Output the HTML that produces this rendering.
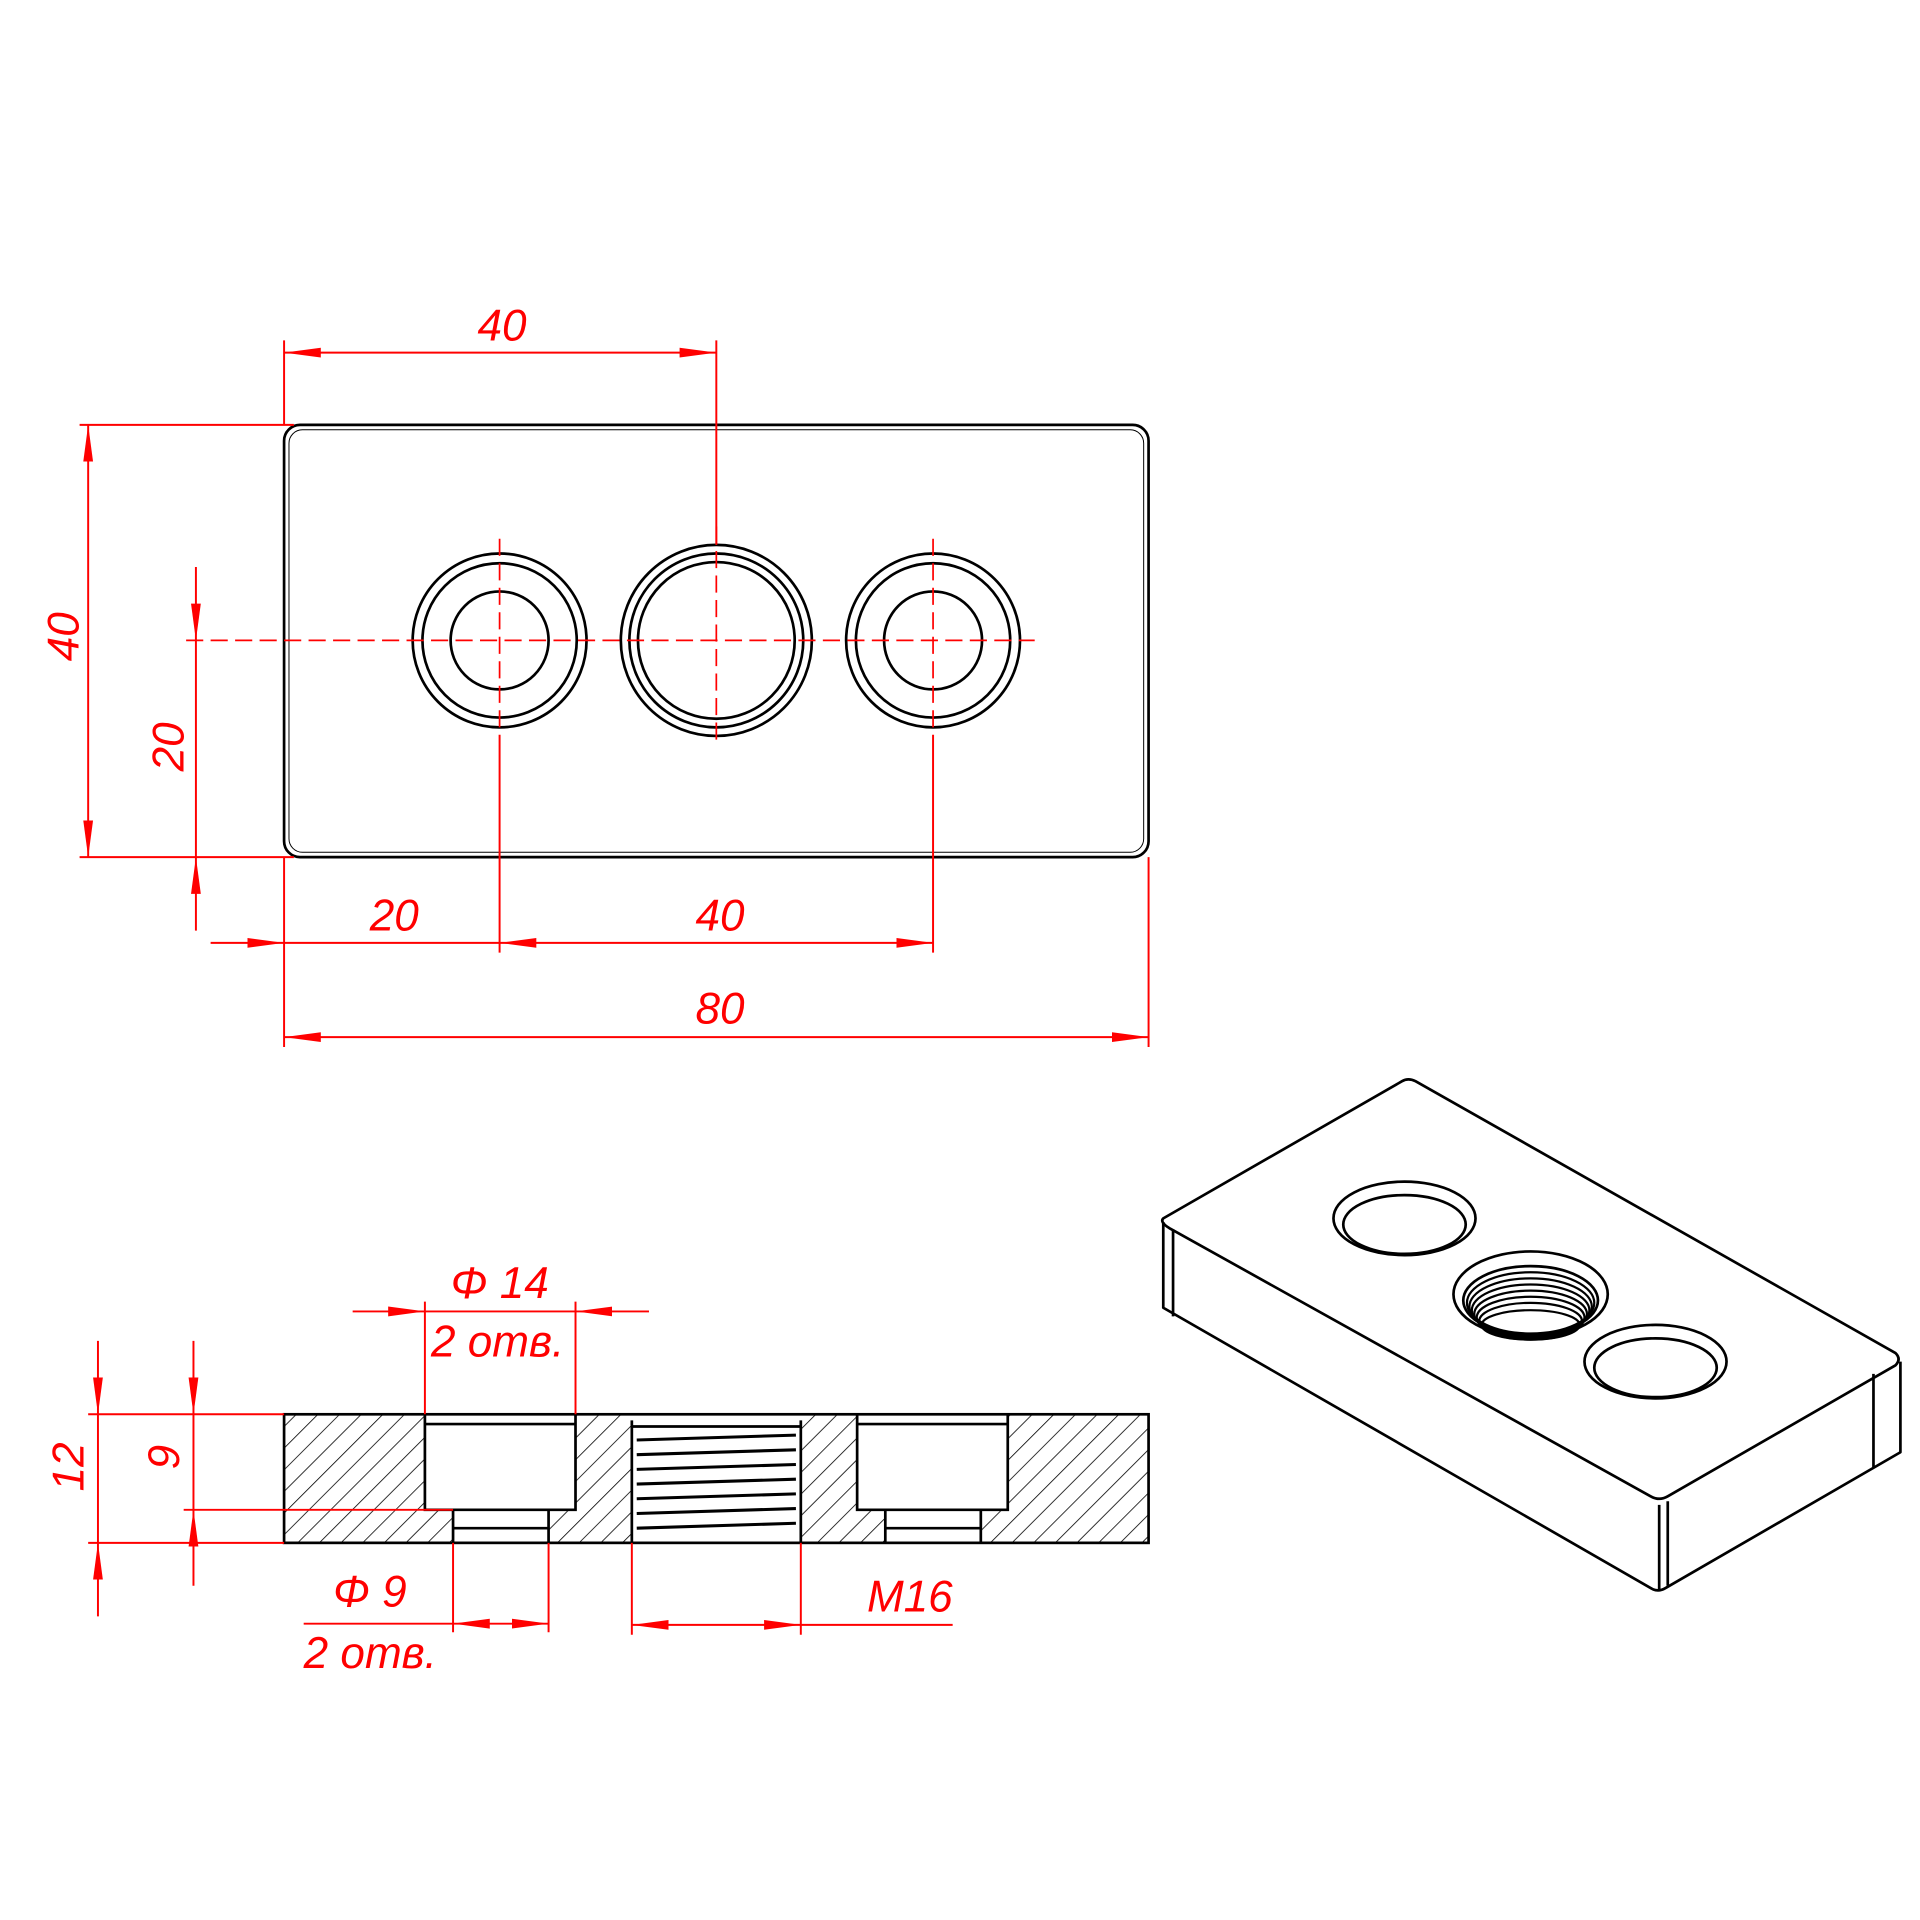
<!DOCTYPE html>
<html><head><meta charset="utf-8"><style>html,body{margin:0;padding:0;background:#fff}svg{display:block}</style></head>
<body>
<svg width="1920" height="1920" viewBox="0 0 1568 1568" xmlns="http://www.w3.org/2000/svg">
<defs>
<pattern id="h" patternUnits="userSpaceOnUse" width="12.5" height="12.5" patternTransform="rotate(45)">
<line x1="0" y1="0" x2="0" y2="12.5" stroke="#000" stroke-width="1.3"/>
</pattern>
<marker id="a" viewBox="0 0 30 10" refX="30" refY="5" markerWidth="30" markerHeight="10" markerUnits="userSpaceOnUse" orient="auto-start-reverse">
<path d="M0,1 L30,5 L0,9 Z" fill="#f00"/>
</marker>
</defs>
<style>
.k{fill:none;stroke:#000;stroke-width:2.2}
.r{fill:none;stroke:#f00;stroke-width:1.6}
.d{fill:none;stroke:#f00;stroke-width:1.4;stroke-dasharray:14 6}
text{font-family:"Liberation Sans",sans-serif;font-style:italic;fill:#f00;font-size:36px}
</style>
<!-- top view -->
<rect x="232" y="347" width="706" height="353" rx="13" class="k"/>
<rect x="236" y="351" width="698" height="345" rx="11" fill="none" stroke="#000" stroke-width="0.8"/>
<g class="k">
<circle cx="408" cy="523" r="71"/><circle cx="408" cy="523" r="63"/><circle cx="408" cy="523" r="40"/>
<circle cx="585" cy="523" r="78"/><circle cx="585" cy="523" r="71"/><circle cx="585" cy="523" r="64"/>
<circle cx="762" cy="523" r="71"/><circle cx="762" cy="523" r="63"/><circle cx="762" cy="523" r="40"/>
</g>
<line x1="152" y1="523" x2="845" y2="523" class="d"/>
<line x1="408" y1="440" x2="408" y2="600" class="d"/>
<line x1="585" y1="430" x2="585" y2="610" class="d"/>
<line x1="762" y1="440" x2="762" y2="600" class="d"/>
<g class="r">
<line x1="232" y1="278" x2="232" y2="347"/><line x1="585" y1="278" x2="585" y2="445"/>
<line x1="232" y1="288" x2="585" y2="288" marker-start="url(#a)" marker-end="url(#a)"/>
<line x1="65" y1="347" x2="240" y2="347"/><line x1="65" y1="700" x2="240" y2="700"/>
<line x1="72" y1="347" x2="72" y2="700" marker-start="url(#a)" marker-end="url(#a)"/>
<line x1="160" y1="463" x2="160" y2="523" marker-end="url(#a)"/>
<line x1="160" y1="523" x2="160" y2="700"/>
<line x1="160" y1="760" x2="160" y2="700" marker-end="url(#a)"/>
<line x1="408" y1="600" x2="408" y2="778"/><line x1="762" y1="600" x2="762" y2="778"/>
<line x1="232" y1="700" x2="232" y2="855"/><line x1="938" y1="700" x2="938" y2="855"/>
<line x1="172" y1="770" x2="232" y2="770" marker-end="url(#a)"/>
<line x1="232" y1="770" x2="408" y2="770"/>
<line x1="408" y1="770" x2="762" y2="770" marker-start="url(#a)" marker-end="url(#a)"/>
<line x1="232" y1="847" x2="938" y2="847" marker-start="url(#a)" marker-end="url(#a)"/>
</g>
<text x="390" y="278">40</text>
<text transform="translate(64,540) rotate(-90)">40</text>
<text transform="translate(150,630) rotate(-90)">20</text>
<text x="302" y="760">20</text>
<text x="568" y="760">40</text>
<text x="568" y="836">80</text>
<!-- section -->
<rect x="232" y="1155" width="706" height="105" fill="url(#h)"/>
<g fill="#fff" stroke="none">
<rect x="347" y="1155" width="123" height="78"/><rect x="370" y="1233" width="78" height="28"/>
<rect x="700" y="1155" width="123" height="78"/><rect x="723" y="1233" width="78" height="28"/>
<rect x="516" y="1155" width="138" height="106"/>
</g>
<g class="k">
<rect x="232" y="1155" width="706" height="105"/>
<path d="M347,1155 V1233 H470 V1155 M347,1163 H470 M370,1233 V1260 M448,1233 V1260 M370,1248 H448"/>
<path d="M700,1155 V1233 H823 V1155 M700,1163 H823 M723,1233 V1260 M801,1233 V1260 M723,1248 H801"/>
<path d="M516,1160 V1260 M654,1160 V1260 M516,1165 H654"/>
</g>
<g stroke="#000" stroke-width="2.5">
<line x1="520" y1="1176" x2="650" y2="1172"/><line x1="520" y1="1188" x2="650" y2="1184"/>
<line x1="520" y1="1200" x2="650" y2="1196"/><line x1="520" y1="1212" x2="650" y2="1208"/>
<line x1="520" y1="1224" x2="650" y2="1220"/><line x1="520" y1="1236" x2="650" y2="1232"/>
<line x1="520" y1="1248" x2="650" y2="1244"/>
</g>
<g class="r">
<line x1="347" y1="1063" x2="347" y2="1155"/><line x1="470" y1="1063" x2="470" y2="1155"/>
<line x1="288" y1="1071" x2="347" y2="1071" marker-end="url(#a)"/>
<line x1="530" y1="1071" x2="470" y2="1071" marker-end="url(#a)"/>
<line x1="347" y1="1071" x2="470" y2="1071"/>
<line x1="72" y1="1155" x2="232" y2="1155"/><line x1="72" y1="1260" x2="232" y2="1260"/>
<line x1="80" y1="1095" x2="80" y2="1155" marker-end="url(#a)"/>
<line x1="80" y1="1320" x2="80" y2="1260" marker-end="url(#a)"/>
<line x1="80" y1="1155" x2="80" y2="1260"/>
<line x1="150" y1="1233" x2="370" y2="1233"/>
<line x1="158" y1="1095" x2="158" y2="1155" marker-end="url(#a)"/>
<line x1="158" y1="1295" x2="158" y2="1233" marker-end="url(#a)"/>
<line x1="158" y1="1155" x2="158" y2="1233"/>
<line x1="370" y1="1260" x2="370" y2="1333"/><line x1="448" y1="1260" x2="448" y2="1333"/>
<line x1="248" y1="1326" x2="370" y2="1326"/>
<line x1="370" y1="1326" x2="448" y2="1326" marker-start="url(#a)" marker-end="url(#a)"/>
<line x1="516" y1="1260" x2="516" y2="1335"/><line x1="654" y1="1260" x2="654" y2="1335"/>
<line x1="516" y1="1327" x2="654" y2="1327" marker-start="url(#a)" marker-end="url(#a)"/>
<line x1="654" y1="1327" x2="778" y2="1327"/>
</g>
<text x="368" y="1060">Φ 14</text>
<text x="352" y="1108">2 отв.</text>
<text transform="translate(68,1218) rotate(-90)">12</text>
<text transform="translate(146,1200) rotate(-90)">9</text>
<text x="272" y="1312">Φ 9</text>
<text x="248" y="1362">2 отв.</text>
<text x="708" y="1316">M16</text>
<!-- iso -->
<g class="k" stroke-linejoin="round">
<path d="M950,995 L1145,883 Q1150,880 1156,883 L1548,1105 Q1553,1110 1548,1115 L1362,1222 Q1355,1226 1348,1222 L955,1003 Q947,998 950,995 Z"/>
<path d="M950,998 V1068 L1350,1298 Q1355,1300 1360,1297 L1552,1186 V1112"/>
<path d="M958,1004 V1075 M1362,1226 V1295 M1530,1122 V1198 M1355,1229 V1298"/>
<ellipse cx="1147" cy="995" rx="58" ry="30"/><ellipse cx="1147" cy="1000" rx="50" ry="24"/>
<ellipse cx="1250" cy="1057" rx="63" ry="35"/><ellipse cx="1250" cy="1062" rx="55" ry="28"/>
<ellipse cx="1352" cy="1112" rx="58" ry="30"/><ellipse cx="1352" cy="1117" rx="50" ry="24"/>
</g>
<g fill="none" stroke="#000" stroke-width="1.8">
<ellipse cx="1250" cy="1064" rx="52" ry="25"/><ellipse cx="1250" cy="1067" rx="50" ry="23"/>
<ellipse cx="1250" cy="1070" rx="48" ry="21"/><ellipse cx="1250" cy="1073" rx="46" ry="19"/>
<ellipse cx="1250" cy="1076" rx="44" ry="17"/><ellipse cx="1250" cy="1079" rx="42" ry="15"/>
<ellipse cx="1250" cy="1082" rx="40" ry="12"/>
</g>
</svg>
</body></html>
